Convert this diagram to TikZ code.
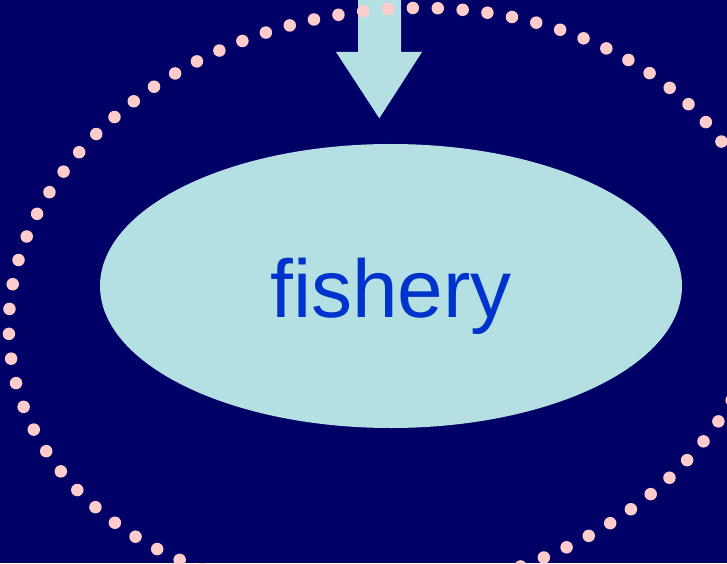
\documentclass[tikz,border=0pt]{standalone}
\usepackage{fontspec}
\setmainfont{Liberation Sans}
\usetikzlibrary{shapes.geometric}
\definecolor{bg}{HTML}{000066}
\definecolor{pale}{HTML}{B4E0E3}
\definecolor{dotpink}{HTML}{FFCCCC}
\definecolor{txtblue}{HTML}{0033CC}
\tikzset{
  pond/.style={ellipse, fill=pale, draw=none, inner sep=0pt, minimum width=582pt, minimum height=284pt},
  dotring/.style={draw=dotpink, line width=12.5pt, line cap=round, dash pattern=on 0pt off 24.93pt, dash phase=16.4pt},
  blockarrow/.style={fill=pale, draw=none},
  bigword/.style={text=txtblue, font=\fontsize{82}{98}\selectfont, inner sep=0pt}
}
\begin{document}
\begin{tikzpicture}[x=1pt,y=1pt]
\useasboundingbox (0,0) rectangle (727,563);
\clip (0,0) rectangle (727,563);
\fill[bg] (0,0) rectangle (727,563);
% block arrow coming from above
\fill[blockarrow] (358,580) -- (401,580) -- (401,511) -- (422,511) -- (379.3,444.7) -- (336,511) -- (358,511) -- cycle;
% central ellipse
\node[pond] (fishery) at (391,277) {};
\node[bigword, anchor=base] (label) at (391,246) {fishery};
% dotted ring
\coordinate (ringc) at (387.4,261.5);
\draw[dotring, rotate around={9.24:(ringc)}] (ringc) ellipse [x radius=380.6pt, y radius=290.9pt];
\end{tikzpicture}
\end{document}
